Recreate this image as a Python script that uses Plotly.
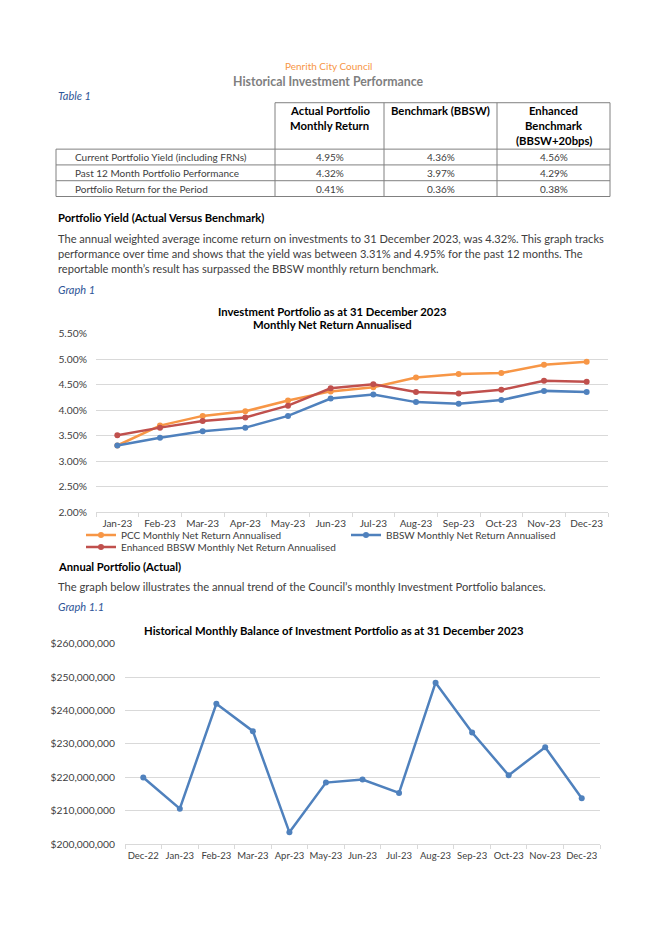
import plotly.graph_objects as go

# ---------------- data ----------------
months1 = ["Jan-23", "Feb-23", "Mar-23", "Apr-23", "May-23", "Jun-23",
           "Jul-23", "Aug-23", "Sep-23", "Oct-23", "Nov-23", "Dec-23"]
pcc = [3.31, 3.70, 3.89, 3.98, 4.19, 4.37, 4.45, 4.64, 4.71, 4.73, 4.89, 4.95]
bbsw = [3.31, 3.46, 3.59, 3.66, 3.89, 4.23, 4.31, 4.16, 4.13, 4.20, 4.38, 4.36]
enh = [3.51, 3.66, 3.79, 3.86, 4.09, 4.43, 4.51, 4.36, 4.33, 4.40, 4.58, 4.56]

months2 = ["Dec-22", "Jan-23", "Feb-23", "Mar-23", "Apr-23", "May-23", "Jun-23",
           "Jul-23", "Aug-23", "Sep-23", "Oct-23", "Nov-23", "Dec-23"]
balance_m = [219.9, 210.6, 242.0, 233.8, 203.5, 218.4, 219.3,
             215.3, 248.3, 233.4, 220.6, 229.0, 213.7]

table_rows = ["Current Portfolio Yield (including FRNs)",
              "Past 12 Month Portfolio Performance",
              "Portfolio Return for the Period"]
table_actual = ["4.95%", "4.32%", "0.41%"]
table_bench = ["4.36%", "3.97%", "0.36%"]
table_enh = ["4.56%", "4.29%", "0.38%"]
table_headers = ["Actual Portfolio<br>Monthly Return", "Benchmark (BBSW)",
                 "Enhanced<br>Benchmark<br>(BBSW+20bps)"]

W, H = 656, 928
FONT = "Lato"
ORANGE = "#F79646"
BLUE = "#4F81BD"
RED = "#C0504D"
TXT = "#262626"
BORDER = "#808080"


def px(p):
    return p / W


def py(p):
    return 1 - p / H


fig = go.Figure()

# ---------------- graph 1 ----------------
for name, vals, col, lg in [("PCC Monthly Net Return Annualised", pcc, ORANGE, "legend"),
                            ("BBSW Monthly Net Return Annualised", bbsw, BLUE, "legend"),
                            ("Enhanced BBSW Monthly Net Return Annualised", enh, RED, "legend2")]:
    fig.add_trace(go.Scatter(
        x=months1, y=[v / 100 for v in vals], name=name, legend=lg,
        mode="lines+markers", xaxis="x", yaxis="y",
        line=dict(color=col, width=2.5), marker=dict(color=col, size=6),
    ))

# ---------------- graph 2 ----------------
fig.add_trace(go.Scatter(
    x=months2, y=[v * 1e6 for v in balance_m], name="Balance",
    mode="lines+markers", xaxis="x2", yaxis="y2", showlegend=False,
    line=dict(color=BLUE, width=2.5), marker=dict(color=BLUE, size=6),
))

GRID = "#D9D9D9"
AXY = dict(family=FONT, size=10.3, color="#404040")
AXX = dict(family=FONT, size=10, color="#404040")
AXX2 = dict(family=FONT, size=9.5, color="#404040")
LEGFONT = dict(family=FONT, size=10, color="#404040")

fig.update_layout(
    width=W, height=H,
    margin=dict(l=0, r=0, t=0, b=0),
    paper_bgcolor="white", plot_bgcolor="white",
    font=dict(family=FONT, color=TXT),
    xaxis=dict(domain=[px(96), px(608)], anchor="y", type="category",
               range=[-0.5, 11.5], showgrid=False, showline=True,
               linecolor=GRID, tickfont=AXX, ticks="outside",
               tickson="boundaries", ticklen=4, tickcolor=GRID, tickangle=0,
               ticklabelstandoff=2),
    yaxis=dict(domain=[py(513), py(332)], anchor="x", range=[0.02, 0.055],
               dtick=0.005, tickformat=".2%", showgrid=True, gridcolor=GRID,
               zeroline=False, tickfont=AXY, ticks="", ticklabelstandoff=8),
    xaxis2=dict(domain=[px(125), px(600)], anchor="y2", type="category",
                range=[-0.5, 12.5], showgrid=False, showline=True,
                linecolor=GRID, tickfont=AXX2, ticks="outside",
                tickson="boundaries", ticklen=4, tickcolor=GRID, tickangle=0,
                ticklabelstandoff=3),
    yaxis2=dict(domain=[py(849), py(646)], anchor="x2", range=[200e6, 260e6],
                dtick=10e6, tickformat="$,.0f", showgrid=True, gridcolor=GRID,
                zeroline=False, tickfont=AXY, ticks="", ticklabelstandoff=9),
    legend=dict(orientation="h", x=px(81), y=py(536), xanchor="left",
                yanchor="middle", font=LEGFONT,
                entrywidth=220, entrywidthmode="pixels", itemwidth=30,
                bgcolor="rgba(0,0,0,0)"),
    legend2=dict(orientation="h", x=px(81), y=py(548), xanchor="left",
                 yanchor="middle", font=LEGFONT, itemwidth=30,
                 bgcolor="rgba(0,0,0,0)"),
    showlegend=True,
)

# ---------------- text annotations ----------------
def note(text, x, y, size, color=TXT, xanchor="left", bold=False, italic=False):
    if bold:
        text = "<b>%s</b>" % text
    if italic:
        text = "<i>%s</i>" % text
    fig.add_annotation(text=text, x=px(x), y=py(y), xref="paper", yref="paper",
                       xanchor=xanchor, yanchor="middle", showarrow=False,
                       font=dict(family=FONT, size=size, color=color))


def hline(x0, x1, y):
    fig.add_shape(type="line", xref="paper", yref="paper",
                  x0=px(x0), x1=px(x1), y0=py(y), y1=py(y),
                  line=dict(color=BORDER, width=1))


def vline(x, y0, y1):
    fig.add_shape(type="line", xref="paper", yref="paper",
                  x0=px(x), x1=px(x), y0=py(y0), y1=py(y1),
                  line=dict(color=BORDER, width=1))


note("Penrith City Council", 328, 61, 10, ORANGE, "center")
note("Historical Investment Performance", 328, 76, 12.3, "#7f7f7f", "center", bold=True)
note("Table 1", 56, 91, 11, "#2F5597", italic=True)

# ---------------- table 1 ----------------
col_edges = [56, 275, 384, 497, 610]
head_top, head_bot, row_h = 98, 145, 16
n_rows = len(table_rows)
tbl_bot = head_bot + n_rows * row_h
# header borders (no border around the empty first header cell)
hline(col_edges[1], col_edges[-1], head_top)
for xe in col_edges[1:]:
    vline(xe, head_top, head_bot)
# body borders
for r in range(n_rows + 1):
    hline(col_edges[0], col_edges[-1], head_bot + r * row_h)
for xe in col_edges:
    vline(xe, head_bot, tbl_bot)
# header text
for c, htxt in enumerate(table_headers):
    cx = (col_edges[c + 1] + col_edges[c + 2]) / 2
    for i, part in enumerate(htxt.split("<br>")):
        note(part, cx, 106 + i * 15, 11.3, "#000000", "center", bold=True)
# body text
for r in range(n_rows):
    cy = head_bot + r * row_h + row_h / 2
    note(table_rows[r], 73, cy, 10, "#404040")
    for c, colvals in enumerate([table_actual, table_bench, table_enh]):
        cx = (col_edges[c + 1] + col_edges[c + 2]) / 2
        note(colvals[r], cx, cy, 10, "#404040", "center")

# ---------------- text ----------------
note("Portfolio Yield (Actual Versus Benchmark)", 56, 214, 11.2, "#000000", bold=True)
para = ["The annual weighted average income return on investments to 31 December 2023, was 4.32%. This graph tracks",
        "performance over time and shows that the yield was between 3.31% and 4.95% for the past 12 months. The",
        "reportable month\u2019s result has surpassed the BBSW monthly return benchmark."]
for i, line in enumerate(para):
    note(line, 56, 236 + i * 15, 11.1, "#404040")
note("Graph 1", 56, 287, 11, "#2F5597", italic=True)

note("Investment Portfolio as at 31 December 2023", 333, 309, 11.3, "#000000", "center", bold=True)
note("Monthly Net Return Annualised", 333, 323, 11.3, "#000000", "center", bold=True)

note("Annual Portfolio (Actual)", 56, 568, 11.2, "#000000", bold=True)
note("The graph below illustrates the annual trend of the Council\u2019s monthly Investment Portfolio balances.",
     56, 588, 11.2, "#404040")
note("Graph 1.1", 56, 608, 11, "#2F5597", italic=True)

note("Historical Monthly Balance of Investment Portfolio as at 31 December 2023",
     334, 633, 11.3, "#000000", "center", bold=True)

fig.write_html("out.html",
               config={"displayModeBar": False},
               post_script="document.body.style.margin='0px';")
